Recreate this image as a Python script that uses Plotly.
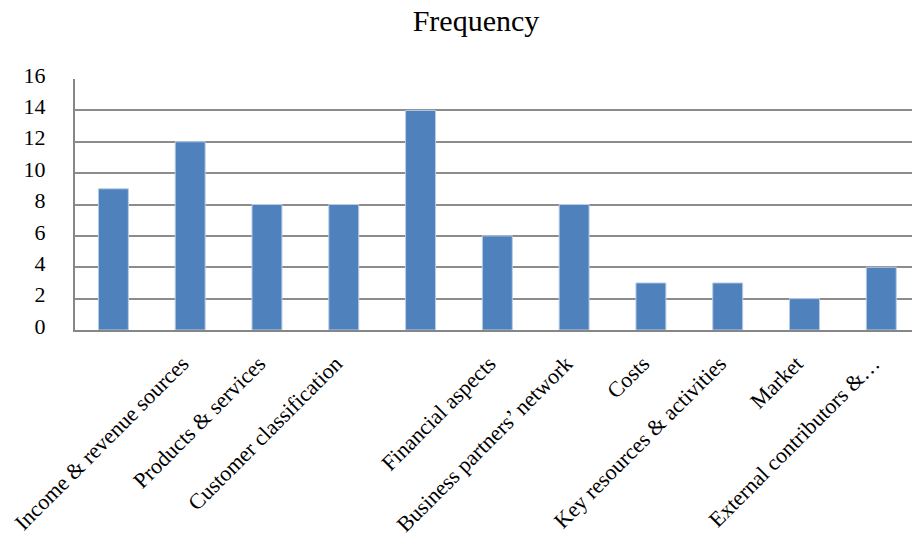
import plotly.graph_objects as go

# Category labels along the x axis (two bars carry no label)
tick_labels = [
    "",
    "Income & revenue sources",
    "Products & services",
    "Customer classification",
    "",
    "Financial aspects",
    "Business partners\u2019 network",
    "Costs",
    "Key resources & activities",
    "Market",
    "External contributors &\u2026",
]
frequency = [9, 12, 8, 8, 14, 6, 8, 3, 3, 2, 4]
y_ticks = [0, 2, 4, 6, 8, 10, 12, 14, 16]

positions = list(range(len(frequency)))
font_family = "Liberation Serif, DejaVu Serif, serif"

fig = go.Figure(
    go.Bar(
        x=positions,
        y=frequency,
        width=0.39,
        marker=dict(color="#4F81BD", line=dict(color="#B9CDE5", width=1)),
        hoverinfo="y",
    )
)

fig.update_layout(
    width=912,
    height=549,
    margin=dict(l=75, r=0, t=79, b=219),
    paper_bgcolor="white",
    plot_bgcolor="white",
    showlegend=False,
    font=dict(family=font_family, color="#000000", size=22),
    title=dict(
        text="Frequency",
        x=476 / 912,
        xref="container",
        xanchor="center",
        y=1 - 20 / 549,
        yref="container",
        yanchor="middle",
        font=dict(family=font_family, size=30, color="#000000"),
    ),
)

fig.update_xaxes(
    range=[-0.5, 10.4],
    tickmode="array",
    tickvals=positions,
    ticktext=tick_labels,
    tickangle=-45,
    ticks="",
    showgrid=False,
    showline=True,
    linecolor="#868686",
    linewidth=2,
    ticklabelstandoff=10,
    ticklabelshift=-8,
    tickfont=dict(size=22),
    zeroline=False,
)

fig.update_yaxes(
    range=[0, 16],
    tickmode="array",
    tickvals=y_ticks,
    ticktext=[str(v) for v in y_ticks],
    showgrid=True,
    gridcolor="#8C8C8C",
    gridwidth=1.5,
    showline=True,
    linecolor="#868686",
    linewidth=2,
    ticks="",
    ticklabelstandoff=23,
    ticklabelshift=-4,
    tickfont=dict(size=22),
    zeroline=False,
)

fig.write_html("out.html")
